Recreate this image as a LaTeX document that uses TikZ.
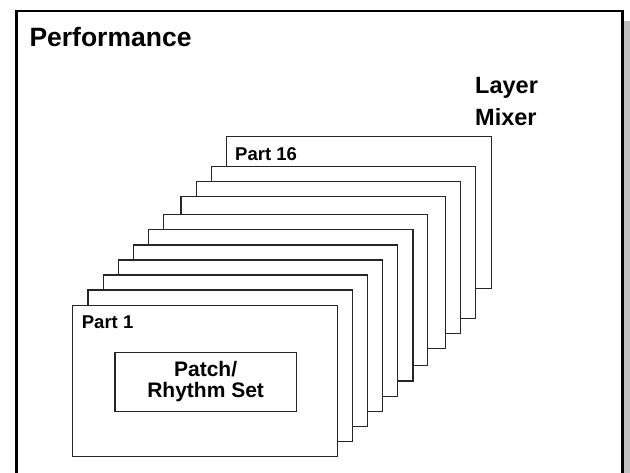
\documentclass[tikz,border=0pt]{standalone}
\usepackage{fontspec}
\setmainfont{Liberation Sans}
\begin{document}
\begin{tikzpicture}[x=1pt,y=-1pt,
  partbox/.style={draw=black!85, line width=1.3pt, fill=white, anchor=north west,
    minimum width=264.5pt, minimum height=151.5pt, inner sep=0pt, outer sep=0pt},
  lbl/.style={anchor=base west, inner sep=0pt, font=\fontsize{18.5}{18.5}\selectfont\bfseries},
  bigl/.style={anchor=base west, inner sep=0pt, font=\fontsize{23.5}{23.5}\selectfont\bfseries},
  innerbox/.style={draw=black!85, line width=1.3pt, fill=white, anchor=north west,
    minimum width=181.4pt, minimum height=59pt, inner sep=0pt, align=center,
    font=\fontsize{21}{21}\selectfont\bfseries}]
\useasboundingbox (0,0) rectangle (630,473);
% shadow and frame
\fill[black!25] (622.5,21) rectangle (630,473);
\draw[line width=2.7pt] (16.7,473) -- (16.7,11) -- (622.3,11) -- (622.3,473);
\node[anchor=base west, inner sep=0pt, font=\fontsize{26.5}{26.5}\selectfont\bfseries] (perf) at (29.3,46.7) {Performance};
\node[bigl] (layer) at (475,94) {Layer};
\node[bigl] (mixer) at (475,126) {Mixer};
% stacked parts, back to front
\node[partbox] (p16) at (226.7,136.7) {};
\node[partbox] (p10) at (211.3,166.7) {};
\node[partbox] (p9) at (196.3,181.7) {};
\node[partbox] (p8) at (181,196.7) {};
\node[partbox] (p7) at (163.3,214.3) {};
\node[partbox] (p6) at (148.5,229.5) {};
\node[partbox] (p5) at (133.3,245) {};
\node[partbox] (p4) at (118.3,260) {};
\node[partbox] (p3) at (103.3,275) {};
\node[partbox] (p2) at (88,290) {};
\node[partbox] (p1) at (72.7,305.3) {};
\node[lbl] (l16) at (235,160.7) {Part 16};
\node[lbl] (l1) at (81.7,329) {Part 1};
\node[innerbox] (patch) at (114.3,351.7) {Patch/\\Rhythm Set};
\end{tikzpicture}
\end{document}
